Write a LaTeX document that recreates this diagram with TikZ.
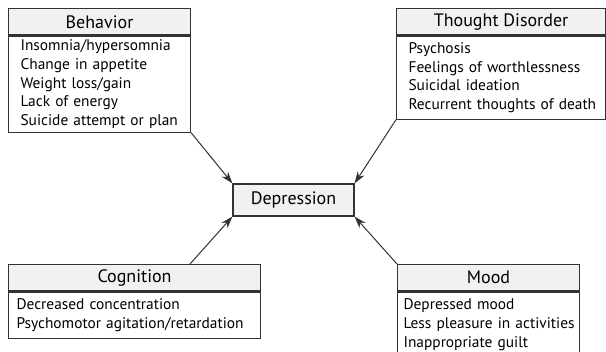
\documentclass[tikz,border=0pt]{standalone}
\usepackage{fontspec}
\setmainfont{PT Sans}
\usetikzlibrary{arrows.meta,positioning}
\definecolor{boxline}{HTML}{333333}
\definecolor{headfill}{HTML}{F1F1F3}

\tikzset{
  head/.style={draw=boxline, fill=headfill, line width=1.1pt, anchor=north west,
    minimum height=26.5pt, inner sep=0pt, font=\fontsize{18}{20}\selectfont},
  list/.style={draw=boxline, line width=1.1pt, anchor=north west, align=left,
    inner ysep=0pt, font=\fontsize{15.4}{18.6}\selectfont},
  link/.style={-{Stealth[length=12pt,width=8pt]}, line width=1pt, draw=boxline}
}

\begin{document}
\begin{tikzpicture}[x=1pt, y=-1pt]
  \useasboundingbox (0,0) rectangle (606,352);

  % Behavior
  \node[head, minimum width=182pt] (behavior) at (8,8) {Behavior};
  \node[list, text width=158pt, minimum height=96pt, inner xsep=12pt] (behaviorlist) at (behavior.south west)
    {Insomnia/hypersomnia\\Change in appetite\\Weight loss/gain\\Lack of energy\\\mbox{Suicide attempt or plan}};

  % Thought Disorder
  \node[head, minimum width=209pt] (thought) at (396,8) {Thought Disorder};
  \node[list, text width=185pt, minimum height=83pt, inner xsep=12pt] (thoughtlist) at (thought.south west)
    {Psychosis\\Feelings of worthlessness\\Suicidal ideation\\\mbox{Recurrent thoughts of death}};

  % Cognition
  \node[head, minimum width=252pt] (cognition) at (8,264) {Cognition};
  \node[list, text width=236pt, minimum height=46pt, inner xsep=8pt] (cognitionlist) at (cognition.south west)
    {Decreased concentration\\\mbox{Psychomotor agitation/retardation}};

  % Mood
  \node[head, minimum width=182pt] (mood) at (397,264) {Mood};
  \node[list, text width=170pt, minimum height=65pt, inner xsep=6pt] (moodlist) at (mood.south west)
    {Depressed mood\\\mbox{Less pleasure in activities}\\Inappropriate guilt};

  % center
  \node[draw=boxline, fill=headfill, line width=1.1pt, minimum width=121pt, minimum height=32pt,
    font=\fontsize{18}{20}\selectfont] (depression) at (293.5,200) {Depression};

  \draw[link] (behaviorlist.south east) -- (depression.north west);
  \draw[link] (thoughtlist.south west) -- (depression.north east);
  \draw[link] ([xshift=182pt]cognition.north west) -- (depression.south west);
  \draw[link] (mood.north west) -- (depression.south east);
\end{tikzpicture}
\end{document}
